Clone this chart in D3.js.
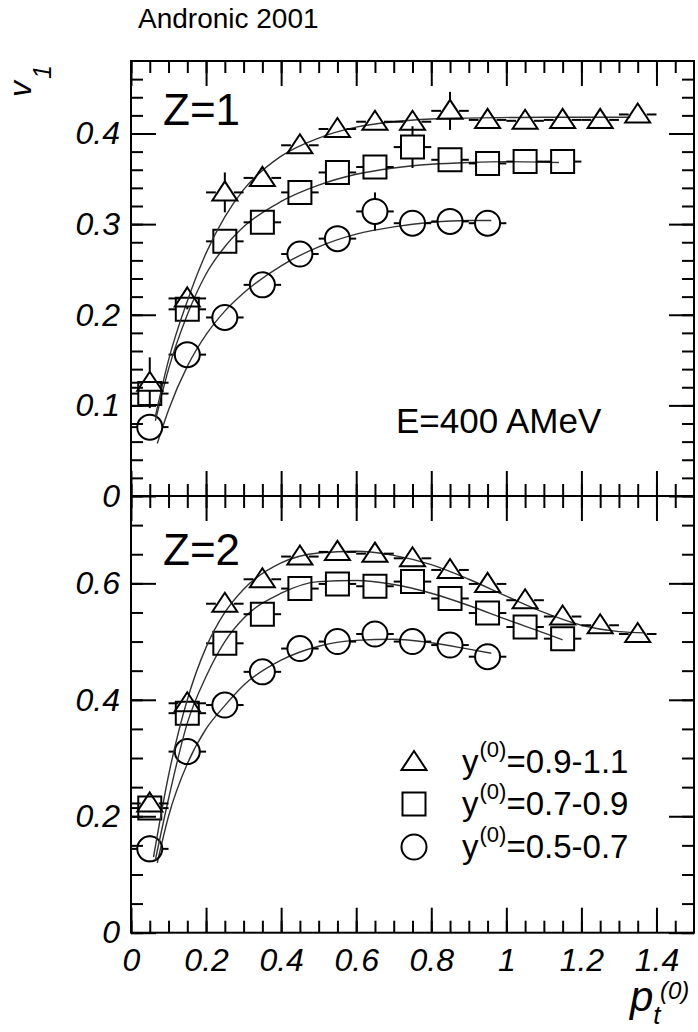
<!DOCTYPE html>
<html>
<head>
<meta charset="utf-8">
<script src="https://cdn.jsdelivr.net/npm/d3@7"></script>
<style>
  body { margin: 0; background: #fff; }
  svg { display: block; }
  text { font-family: "Liberation Sans", Arial, sans-serif; fill: #000; }
</style>
</head>
<body>
<svg id="chart" width="698" height="1032"></svg>
<script>
// pt bin centres, shared by all series
const ptBins = [0.05, 0.15, 0.25, 0.35, 0.45, 0.55, 0.65, 0.75, 0.85, 0.95, 1.05, 1.15, 1.25, 1.35];
const ptHalfWidth = 0.05;

// Z=1 panel
const z1Tri  = [0.125, 0.218, 0.335, 0.351, 0.387, 0.405, 0.413, 0.413, 0.425, 0.415, 0.414, 0.415, 0.415, 0.421];
const z1TriErr = [0.028, 0.012, 0.022, 0.01, 0.008, 0.007, 0.007, 0.008, 0.021, 0.008, 0.008, 0.008, 0.008, 0.008];
const z1Sq   = [0.113, 0.206, 0.281, 0.302, 0.335, 0.357, 0.363, 0.385, 0.371, 0.367, 0.369, 0.369];
const z1SqErr = [0.01, 0.01, 0.008, 0.006, 0.006, 0.006, 0.006, 0.023, 0.006, 0.006, 0.006, 0.006];
const z1Circ = [0.076, 0.156, 0.197, 0.233, 0.267, 0.284, 0.314, 0.301, 0.303, 0.301];
const z1CircErr = [0.01, 0.008, 0.006, 0.006, 0.006, 0.006, 0.021, 0.006, 0.006, 0.006];

const z1TriFit = [[0.065, 0.088], [0.1, 0.15], [0.15, 0.215], [0.2, 0.268], [0.25, 0.308], [0.3, 0.338],
  [0.4, 0.375], [0.5, 0.395], [0.6, 0.407], [0.7, 0.413], [0.8, 0.416], [0.9, 0.417], [1.1, 0.418], [1.33, 0.418]];
const z1SqFit = [[0.065, 0.083], [0.1, 0.14], [0.15, 0.2], [0.2, 0.245], [0.25, 0.275], [0.3, 0.297],
  [0.4, 0.325], [0.5, 0.343], [0.6, 0.355], [0.7, 0.362], [0.8, 0.366], [0.9, 0.368], [1.0, 0.369], [1.14, 0.368]];
const z1CircFit = [[0.07, 0.058], [0.1, 0.095], [0.15, 0.143], [0.2, 0.178], [0.25, 0.204], [0.3, 0.224],
  [0.4, 0.254], [0.5, 0.275], [0.6, 0.289], [0.7, 0.297], [0.8, 0.302], [0.9, 0.304], [0.96, 0.304]];

// Z=2 panel
const z2Tri  = [0.222, 0.394, 0.565, 0.607, 0.646, 0.654, 0.651, 0.643, 0.623, 0.599, 0.571, 0.543, 0.528, 0.513];
const z2TriErr = [0.015, 0.01, 0.01, 0.01, 0.01, 0.01, 0.01, 0.01, 0.01, 0.01, 0.01, 0.01, 0.01, 0.01];
const z2Sq   = [0.214, 0.377, 0.497, 0.547, 0.591, 0.599, 0.595, 0.603, 0.574, 0.549, 0.525, 0.505];
const z2SqErr = [0.012, 0.01, 0.01, 0.01, 0.01, 0.01, 0.01, 0.01, 0.01, 0.01, 0.01, 0.01];
const z2Circ = [0.144, 0.311, 0.391, 0.448, 0.488, 0.5, 0.513, 0.5, 0.494, 0.474];
const z2CircErr = [0.023, 0.01, 0.01, 0.01, 0.01, 0.01, 0.01, 0.01, 0.01, 0.01];

const z2TriFit = [[0.06, 0.13], [0.1, 0.27], [0.15, 0.4], [0.2, 0.49], [0.25, 0.55], [0.3, 0.59],
  [0.4, 0.635], [0.5, 0.652], [0.6, 0.655], [0.7, 0.648], [0.8, 0.632], [0.9, 0.607], [1.0, 0.578],
  [1.1, 0.55], [1.2, 0.528], [1.3, 0.517], [1.37, 0.515]];
const z2SqFit = [[0.065, 0.125], [0.1, 0.23], [0.15, 0.36], [0.2, 0.44], [0.25, 0.5], [0.3, 0.54],
  [0.4, 0.583], [0.5, 0.603], [0.6, 0.605], [0.7, 0.598], [0.8, 0.583], [0.9, 0.562], [1.0, 0.538],
  [1.1, 0.515], [1.15, 0.503]];
const z2CircFit = [[0.07, 0.12], [0.1, 0.2], [0.15, 0.29], [0.2, 0.35], [0.25, 0.39], [0.3, 0.425],
  [0.4, 0.468], [0.5, 0.492], [0.6, 0.502], [0.7, 0.504], [0.8, 0.498], [0.9, 0.487], [0.96, 0.48]];

// axis ticks and text
const xMajor = [0, 0.2, 0.4, 0.6, 0.8, 1, 1.2, 1.4];
const xMinor = d3.range(0, 1.5, 0.05);
const y1Major = [0, 0.1, 0.2, 0.3, 0.4];
const y1Minor = d3.range(0, 0.48, 0.02);
const y2Major = [0, 0.2, 0.4, 0.6];
const y2Minor = d3.range(0, 0.75, 0.05);
const legendLabels = ["=0.9-1.1", "=0.7-0.9", "=0.5-0.7"];

// layout
const left = 131, right = 694;
const top1 = 61, mid = 496, bottom2 = 932.7;
const majorLen = 25, minorLen = 12;

const svg = d3.select("#chart");

const x = d3.scaleLinear().domain([0, 1.5]).range([left, right]);
const y1 = d3.scaleLinear().domain([0, 0.48]).range([mid, top1]);
const y2 = d3.scaleLinear().domain([0, 0.75]).range([bottom2, mid]);

const fmt = d3.format("~g");

// shapes
const triPath = "M0,-11L12.5,8L-12.5,8Z";
const sqPath = "M-11.5,-11.5H11.5V11.5H-11.5Z";
const circPath = d3.arc()({ innerRadius: 0, outerRadius: 12.5, startAngle: 0, endAngle: 2 * Math.PI });
const shapes = {
  tri: { d: triPath, hx: 9, top: 11, bot: 8 },
  sq: { d: sqPath, hx: 11.5, top: 11.5, bot: 11.5 },
  circ: { d: circPath, hx: 12.5, top: 12.5, bot: 12.5 }
};

function drawAxes(y, yMajor, yMinor, yTop, yBottom, withXLabels) {
  const g = svg.append("g");
  // x ticks on the bottom edge (pointing up)
  g.append("g").attr("transform", `translate(0,${yBottom})`)
    .call(d3.axisBottom(x).tickValues(xMinor).tickSize(-minorLen).tickFormat(""));
  g.append("g").attr("transform", `translate(0,${yBottom})`)
    .call(d3.axisBottom(x).tickValues(xMajor).tickSize(-majorLen).tickPadding(16).tickFormat(withXLabels ? fmt : ""));
  // x ticks on the top edge (pointing down)
  g.append("g").attr("transform", `translate(0,${yTop})`)
    .call(d3.axisTop(x).tickValues(xMinor).tickSize(-minorLen).tickFormat(""));
  g.append("g").attr("transform", `translate(0,${yTop})`)
    .call(d3.axisTop(x).tickValues(xMajor).tickSize(-majorLen).tickFormat(""));
  // y ticks, left and right
  g.append("g").attr("transform", `translate(${left},0)`)
    .call(d3.axisLeft(y).tickValues(yMinor).tickSize(-minorLen).tickFormat(""));
  g.append("g").attr("transform", `translate(${left},0)`)
    .call(d3.axisLeft(y).tickValues(yMajor).tickSize(-majorLen).tickPadding(11).tickFormat(fmt));
  g.append("g").attr("transform", `translate(${right},0)`)
    .call(d3.axisRight(y).tickValues(yMinor).tickSize(-minorLen).tickFormat(""));
  g.append("g").attr("transform", `translate(${right},0)`)
    .call(d3.axisRight(y).tickValues(yMajor).tickSize(-majorLen).tickFormat(""));

  g.selectAll(".domain").remove();
  g.selectAll(".tick line").attr("stroke", "#000").attr("stroke-width", 2);
  g.selectAll(".tick text")
    .attr("font-family", "'Liberation Sans', Arial, sans-serif")
    .attr("font-style", "italic")
    .attr("font-size", 32)
    .attr("fill", "#000");

  g.append("rect")
    .attr("x", left).attr("y", yTop)
    .attr("width", right - left).attr("height", yBottom - yTop)
    .attr("fill", "none").attr("stroke", "#000").attr("stroke-width", 2);
}

function drawSeries(y, vals, errs, fit, shapeName) {
  const s = shapes[shapeName];
  const g = svg.append("g");
  const line = d3.line().x(d => x(d[0])).y(d => y(d[1])).curve(d3.curveMonotoneX);
  g.append("path")
    .attr("d", line(fit))
    .attr("fill", "none")
    .attr("stroke", "#333")
    .attr("stroke-width", 1.4);

  const pts = vals.map((v, i) => ({ pt: ptBins[i], v: v, e: errs[i] }));
  const bars = g.append("g").attr("stroke", "#000").attr("stroke-width", 2);
  pts.forEach(d => {
    const cx = x(d.pt), cy = y(d.v);
    const x0 = x(d.pt - ptHalfWidth), x1 = x(d.pt + ptHalfWidth);
    bars.append("line").attr("x1", x0).attr("x2", cx - s.hx).attr("y1", cy).attr("y2", cy);
    bars.append("line").attr("x1", cx + s.hx).attr("x2", x1).attr("y1", cy).attr("y2", cy);
    const yUp = y(d.v + d.e), yDn = y(d.v - d.e);
    if (cy - yUp > s.top) bars.append("line").attr("x1", cx).attr("x2", cx).attr("y1", yUp).attr("y2", cy - s.top);
    if (yDn - cy > s.bot) bars.append("line").attr("x1", cx).attr("x2", cx).attr("y1", cy + s.bot).attr("y2", yDn);
  });

  g.selectAll("path.marker")
    .data(pts)
    .enter()
    .append("path")
    .attr("class", "marker")
    .attr("d", s.d)
    .attr("transform", d => `translate(${x(d.pt)},${y(d.v)})`)
    .attr("fill", "none")
    .attr("stroke", "#000")
    .attr("stroke-width", 2);
}

drawAxes(y1, y1Major, y1Minor, top1, mid, false);
drawAxes(y2, y2Major, y2Minor, mid, bottom2, true);

drawSeries(y1, z1Circ, z1CircErr, z1CircFit, "circ");
drawSeries(y1, z1Sq, z1SqErr, z1SqFit, "sq");
drawSeries(y1, z1Tri, z1TriErr, z1TriFit, "tri");
drawSeries(y2, z2Circ, z2CircErr, z2CircFit, "circ");
drawSeries(y2, z2Sq, z2SqErr, z2SqFit, "sq");
drawSeries(y2, z2Tri, z2TriErr, z2TriFit, "tri");

// texts
svg.append("text").attr("x", 138).attr("y", 28).attr("font-size", 28).text("Andronic 2001");
svg.append("text").attr("x", 163).attr("y", 125).attr("font-size", 44).text("Z=1");
svg.append("text").attr("x", 163).attr("y", 565).attr("font-size", 44).text("Z=2");
svg.append("text").attr("x", 396).attr("y", 433).attr("font-size", 35).text("E=400 AMeV");

// y axis title v_1
const vt = svg.append("text")
  .attr("transform", "translate(31,97) rotate(-90)")
  .attr("font-size", 32)
  .attr("font-style", "italic");
vt.append("tspan").text("v");
vt.append("tspan").attr("font-size", 25).attr("dy", 20).attr("dx", 2).text("1");

// x axis title p_t^(0)
const pt = svg.append("text").attr("font-style", "italic");
pt.append("tspan").attr("x", 630).attr("y", 1011).attr("font-size", 42).text("p");
pt.append("tspan").attr("font-size", 26).attr("dy", 13).text("t");
pt.append("tspan").attr("x", 660).attr("y", 999).attr("font-size", 24).text("(0)");

// legend
const legendShapes = ["tri", "sq", "circ"];
const legendBase = [773, 815, 858];
legendShapes.forEach((name, i) => {
  svg.append("path")
    .attr("d", shapes[name].d)
    .attr("transform", `translate(414,${legendBase[i] - 11})`)
    .attr("fill", "none").attr("stroke", "#000").attr("stroke-width", 2);
  const t = svg.append("text").attr("x", 462).attr("y", legendBase[i]).attr("font-size", 33);
  t.append("tspan").text("y");
  t.append("tspan").attr("font-size", 22).attr("dx", 1).attr("dy", -16).text("(0)");
  t.append("tspan").attr("dx", 0).attr("dy", 16).text(legendLabels[i]);
});
</script>
</body>
</html>
